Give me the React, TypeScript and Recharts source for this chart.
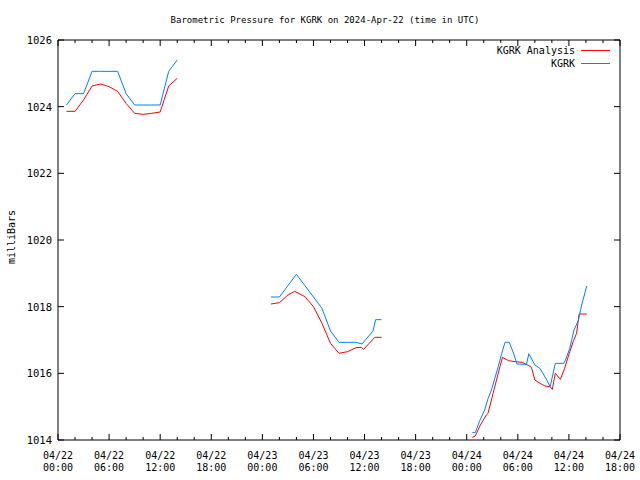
import React from "react";
import { LineChart, Line, XAxis, YAxis, Legend } from "recharts";

// Hours since 2024-04-22 00:00 UTC
const analysisHours = [
  1, 2, 3, 4, 5, 6, 7, 8, 9, 10, 11, 12, 13, 14,
  20,
  25, 26, 27, 27.8, 29, 30, 31, 32, 33, 34, 35, 35.6, 35.9, 37.2, 38,
  44,
  48.65, 49, 49.6, 50.3, 50.5, 51.1, 51.9, 52.2, 52.9, 53.7, 54.5, 55.3, 55.6, 56, 56.6, 57.2, 57.8, 58.05, 58.4, 59, 59.5, 60.1, 60.5, 60.9, 61.2, 62.1,
];
const analysisValues: (number | null)[] = [
  1023.86, 1023.86, 1024.2, 1024.62, 1024.68, 1024.6, 1024.46, 1024.1, 1023.8, 1023.77, 1023.8, 1023.84, 1024.62, 1024.85,
  null,
  1018.08, 1018.12, 1018.35, 1018.46, 1018.3, 1018.0, 1017.5, 1016.9, 1016.6, 1016.65, 1016.77, 1016.78, 1016.72, 1017.08, 1017.08,
  null,
  1014.08, 1014.12, 1014.45, 1014.75, 1014.8, 1015.4, 1016.2, 1016.48, 1016.38, 1016.35, 1016.33, 1016.23, 1016.18, 1015.8, 1015.7, 1015.62, 1015.6, 1015.52, 1016.0, 1015.82, 1016.15, 1016.65, 1016.95, 1017.2, 1017.78, 1017.78,
];

const obsHours = [
  1, 2, 3, 4, 5, 6, 7, 8, 9, 10, 11, 12, 13, 14,
  20,
  25, 26, 27, 28, 29, 30, 31, 32, 33, 34, 35, 35.7, 37, 37.3, 38,
  44,
  48.65, 49, 49.5, 50.1, 50.5, 50.9, 51.3, 51.7, 52.1, 52.5, 53, 53.5, 53.9, 54.8, 55, 55.3, 56, 56.6, 57.4, 57.8, 58.4, 59.4, 59.6, 60.1, 60.6, 61.1, 61.5, 62.1,
];
const obsValues: (number | null)[] = [
  1024.05, 1024.39, 1024.39, 1025.06, 1025.06, 1025.06, 1025.06, 1024.39, 1024.05, 1024.05, 1024.05, 1024.05, 1025.06, 1025.4,
  null,
  1018.29, 1018.29, 1018.63, 1018.97, 1018.63, 1018.29, 1017.95, 1017.27, 1016.93, 1016.93, 1016.93, 1016.88, 1017.27, 1017.61, 1017.61,
  null,
  1014.22, 1014.22, 1014.56, 1014.9, 1015.24, 1015.5, 1015.85, 1016.2, 1016.59, 1016.93, 1016.93, 1016.6, 1016.28, 1016.27, 1016.25, 1016.59, 1016.25, 1016.15, 1015.8, 1015.6, 1016.3, 1016.3, 1016.4, 1016.75, 1017.3, 1017.58, 1018.05, 1018.62,
];

const xTicks = Array.from({ length: 34 }, (_, i) => i * 2);
const dayLabels = ["04/22", "04/23", "04/24"];
const hourLabels = ["00:00", "06:00", "12:00", "18:00"];
const yTicks = [1014, 1016, 1018, 1020, 1022, 1024, 1026];

const seriesNames = ["KGRK Analysis", "KGRK"];
const seriesColors = ["#ff0000", "#0080ff"];

const titleText = "Barometric Pressure for KGRK on 2024-Apr-22 (time in UTC)";
const yLabelText = "milliBars";

const FONT = "'DejaVu Sans Mono', monospace";

const toSeries = (hours: number[], values: (number | null)[]) =>
  hours.map((t, i) => ({ t, v: values[i] }));

const analysisData = toSeries(analysisHours, analysisValues);
const obsData = toSeries(obsHours, obsValues);

const BottomTick = (props: any) => {
  const { x, y, payload } = props;
  const h = payload.value as number;
  const major = h % 6 === 0;
  const len = major ? 6 : 3;
  const day = dayLabels[Math.floor(h / 24)];
  const hr = hourLabels[(h % 24) / 6];
  return (
    <g>
      <line x1={x} y1={y} x2={x} y2={y - len} stroke="#000" />
      {major && (
        <text x={x} textAnchor="middle" fontFamily={FONT} fontSize={10} fill="#000">
          <tspan x={x} y={y + 19}>{day}</tspan>
          <tspan x={x} y={y + 31}>{hr}</tspan>
        </text>
      )}
    </g>
  );
};

const TopTick = (props: any) => {
  const { x, y, payload } = props;
  const major = (payload.value as number) % 6 === 0;
  const len = major ? 6 : 3;
  return <line x1={x} y1={y} x2={x} y2={y + len} stroke="#000" />;
};

const LeftTick = (props: any) => {
  const { x, y, payload } = props;
  return (
    <g>
      <line x1={x} y1={y} x2={x + 6} y2={y} stroke="#000" />
      <text x={x - 6} y={y + 4} textAnchor="end" fontFamily={FONT} fontSize={10.5} fill="#000">
        {payload.value}
      </text>
    </g>
  );
};

const RightTick = (props: any) => {
  const { x, y } = props;
  return <line x1={x} y1={y} x2={x - 6} y2={y} stroke="#000" />;
};

const renderLegend = () => (
  <div style={{ fontFamily: FONT, fontSize: 10, color: "#000" }}>
    {seriesNames.map((name, i) => (
      <div
        key={name}
        style={{ display: "flex", justifyContent: "flex-end", alignItems: "center", height: 13 }}
      >
        <span>{name}</span>
        <span
          style={{
            display: "inline-block",
            width: 29,
            height: 1,
            background: seriesColors[i],
            marginLeft: 6,
          }}
        />
      </div>
    ))}
  </div>
);

export default function App() {
  return (
    <div style={{ position: "absolute", left: 0, top: 0, width: 640, height: 480, background: "#fff" }}>
      <div
        style={{
          position: "absolute",
          left: 5,
          top: 14,
          width: 640,
          textAlign: "center",
          fontFamily: FONT,
          fontSize: 9,
          lineHeight: "12px",
          color: "#000",
        }}
      >
        {titleText}
      </div>
      <div
        style={{
          position: "absolute",
          left: 12 - 40,
          top: 237 - 6,
          width: 80,
          height: 12,
          lineHeight: "12px",
          textAlign: "center",
          transform: "rotate(-90deg)",
          fontFamily: FONT,
          fontSize: 10,
          color: "#000",
        }}
      >
        {yLabelText}
      </div>
      <LineChart width={640} height={480} margin={{ top: 39, right: 19, bottom: 0, left: 0 }}>
        <XAxis
          xAxisId="bottom"
          dataKey="t"
          type="number"
          domain={[0, 66]}
          ticks={xTicks}
          interval={0}
          height={40}
          tickSize={0}
          tickMargin={0}
          axisLine={{ stroke: "#000" }}
          tickLine={false}
          tick={(p: any) => <BottomTick {...p} />}
          allowDataOverflow
        />
        <XAxis
          xAxisId="top"
          orientation="top"
          dataKey="t"
          type="number"
          domain={[0, 66]}
          ticks={xTicks}
          interval={0}
          height={1}
          tickSize={0}
          tickMargin={0}
          axisLine={{ stroke: "#000" }}
          tickLine={false}
          tick={(p: any) => <TopTick {...p} />}
          allowDataOverflow
        />
        <YAxis
          yAxisId="left"
          type="number"
          domain={[1014, 1026]}
          ticks={yTicks}
          interval={0}
          width={58}
          tickSize={0}
          tickMargin={0}
          axisLine={{ stroke: "#000" }}
          tickLine={false}
          tick={(p: any) => <LeftTick {...p} />}
          allowDataOverflow
        />
        <YAxis
          yAxisId="right"
          orientation="right"
          type="number"
          domain={[1014, 1026]}
          ticks={yTicks}
          interval={0}
          width={1}
          tickSize={0}
          tickMargin={0}
          axisLine={{ stroke: "#000" }}
          tickLine={false}
          tick={(p: any) => <RightTick {...p} />}
          allowDataOverflow
        />
        <Legend
          layout="horizontal"
          verticalAlign="middle"
          align="center"
          content={renderLegend}
          wrapperStyle={{ position: "absolute", left: 460, top: 44, width: 150 }}
        />
        <Line
          xAxisId="bottom"
          yAxisId="left"
          data={analysisData}
          dataKey="v"
          name={seriesNames[0]}
          stroke={seriesColors[0]}
          strokeWidth={1}
          dot={false}
          activeDot={false}
          type="linear"
          connectNulls={false}
          isAnimationActive={false}
        />
        <Line
          xAxisId="top"
          yAxisId="right"
          data={obsData}
          dataKey="v"
          name={seriesNames[1]}
          stroke={seriesColors[1]}
          strokeWidth={1}
          dot={false}
          activeDot={false}
          type="linear"
          connectNulls={false}
          isAnimationActive={false}
        />
      </LineChart>
    </div>
  );
}
